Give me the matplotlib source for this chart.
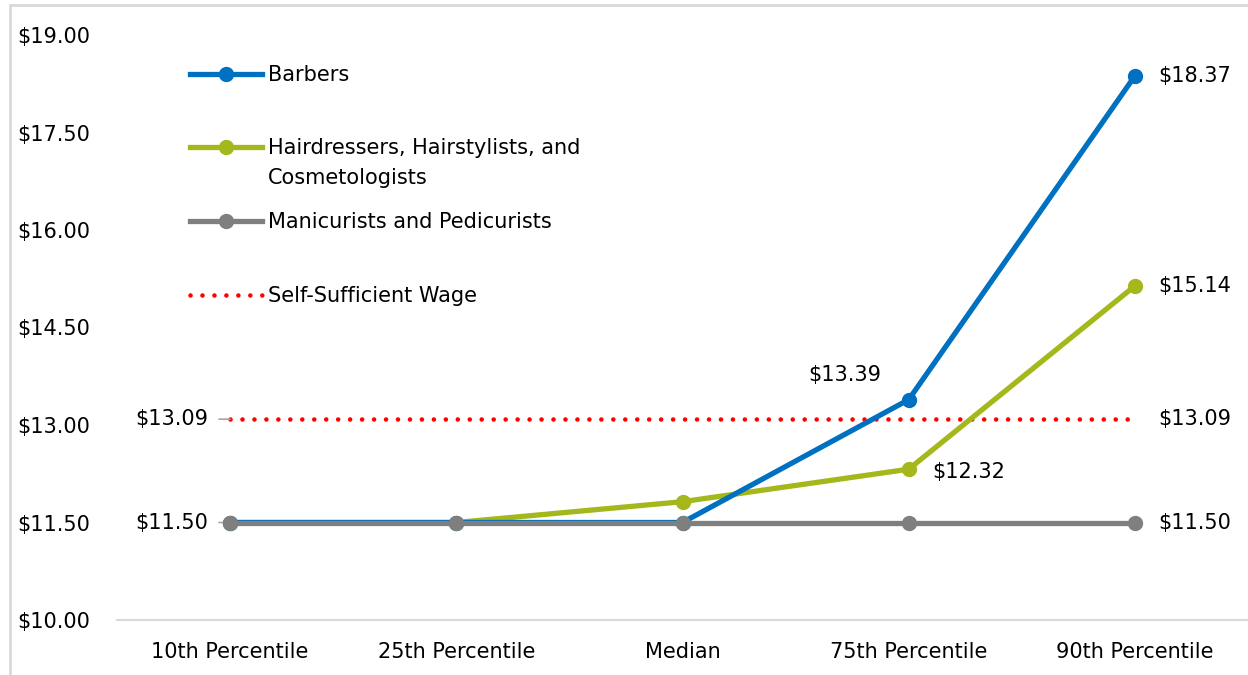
import matplotlib
matplotlib.use("Agg")
import matplotlib.pyplot as plt
from matplotlib.patches import Rectangle
from matplotlib.legend import Legend

# data
categories = ["10th Percentile", "25th Percentile", "Median", "75th Percentile", "90th Percentile"]
barbers = [11.50, 11.50, 11.50, 13.39, 18.37]
hairdressers = [11.50, 11.50, 11.82, 12.32, 15.14]
manicurists = [11.50, 11.50, 11.50, 11.50, 11.50]
self_wage = [13.09, 13.09, 13.09, 13.09, 13.09]
yticks = [10.0, 11.5, 13.0, 14.5, 16.0, 17.5, 19.0]

BLUE = "#0070C0"
GREEN = "#A5B81B"
GRAY = "#7F7F7F"
RED = "#FF0000"

plt.rcParams["font.family"] = ["DejaVu Sans"]
FS = 15

fig = plt.figure(figsize=(12.48, 6.75), dpi=100)
ax = fig.add_axes([117/1248, 1-620/675, 1131/1248, 585/675])

x = list(range(len(categories)))
l1, = ax.plot(x, barbers, color=BLUE, lw=3.8, marker="o", ms=10, zorder=4)
l2, = ax.plot(x, hairdressers, color=GREEN, lw=3.8, marker="o", ms=10, zorder=3)
l3, = ax.plot(x, manicurists, color=GRAY, lw=3.8, marker="o", ms=10, zorder=5)
l4, = ax.plot(x, self_wage, color=RED, lw=3.3, linestyle=(0, (0.01, 2.6)),
              dash_capstyle="round", zorder=2)

ax.set_xlim(-0.5, 4.5)
ax.set_ylim(10, 19)
ax.set_yticks(yticks)
ax.set_yticklabels(["$%.2f" % v for v in yticks])
ax.set_xticks(x)
ax.set_xticklabels(categories)
ax.tick_params(axis="both", length=0, labelsize=FS)
ax.tick_params(axis="y", pad=72)
for t in ax.get_yticklabels():
    t.set_horizontalalignment("left")
ax.tick_params(axis="x", pad=16)

for s in ["top", "right", "left"]:
    ax.spines[s].set_visible(False)
ax.spines["bottom"].set_color("#D9D9D9")
ax.spines["bottom"].set_linewidth(1.5)

# data labels
def lab(xi, yi, txt, dx, dy, ha="left", leader=False):
    kw = {}
    if leader:
        kw["arrowprops"] = dict(arrowstyle="-", color="#A6A6A6", lw=1.2,
                                shrinkA=6, shrinkB=0)
    ax.annotate(txt, (xi, yi), xytext=(dx, dy), textcoords="offset points",
                ha=ha, va="center", fontsize=FS, **kw)

lab(0, self_wage[0], "$%.2f" % self_wage[0], -16, 0, ha="right", leader=True)
lab(0, manicurists[0], "$%.2f" % manicurists[0], -16, 0, ha="right", leader=True)
lab(4, barbers[4], "$%.2f" % barbers[4], 17, 0)
lab(4, hairdressers[4], "$%.2f" % hairdressers[4], 17, 0)
lab(4, self_wage[4], "$%.2f" % self_wage[4], 17, 0)
lab(4, manicurists[4], "$%.2f" % manicurists[4], 17, 0)
lab(3, barbers[3], "$%.2f" % barbers[3], -46, 18, ha="center")
lab(3, hairdressers[3], "$%.2f" % hairdressers[3], 17, -2)

# legend: one box per entry so the spacing follows the original
entries = [(l1, "Barbers", 0.9316),
           (l2, "Hairdressers, Hairstylists, and", 0.8068),
           (l3, "Manicurists and Pedicurists", 0.6803),
           (l4, "Self-Sufficient Wage", 0.5538)]
for h, name, yy in entries:
    leg = Legend(ax, [h], [name], loc="center left", bbox_to_anchor=(0.0645, yy),
                 frameon=False, fontsize=FS, handlelength=3.46,
                 handletextpad=0.29, borderpad=0, borderaxespad=0)
    ax.add_artist(leg)
ax.text(0.1335, 0.7556, "Cosmetologists", transform=ax.transAxes,
        ha="left", va="center", fontsize=FS)

# light chart-area frame
fig.add_artist(Rectangle((10/1248, -0.1), 1.2, 1-5/675+0.1, transform=fig.transFigure,
                         fill=False, edgecolor="#D9D9D9", lw=2))

fig.savefig("out.png", dpi=100)
